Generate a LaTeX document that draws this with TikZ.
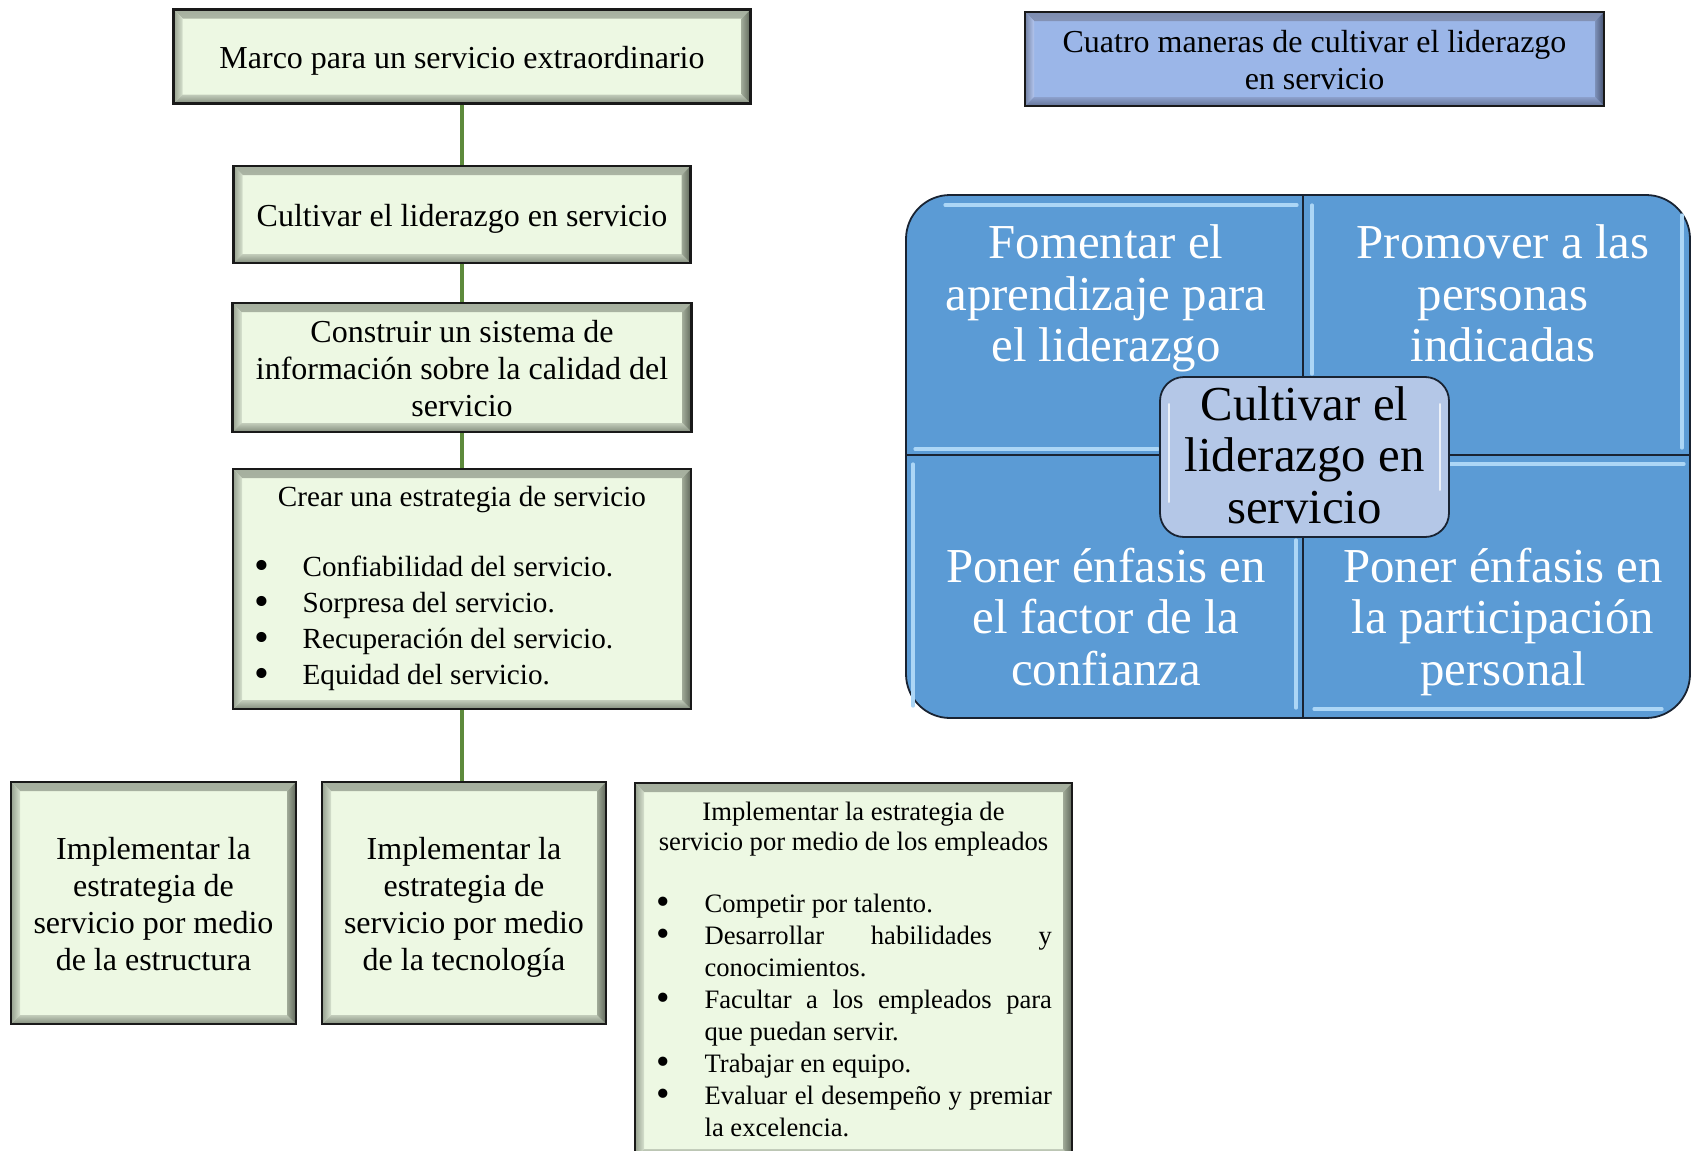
\documentclass[tikz,border=0pt]{standalone}
\usepackage{fontspec}
\setmainfont{Liberation Serif}
\usetikzlibrary{calc}
\definecolor{ginner}{RGB}{237,248,227}
\definecolor{gTo}{RGB}{165,175,158}
\definecolor{gTi}{RGB}{232,241,224}
\definecolor{gLo}{RGB}{150,160,143}
\definecolor{gLi}{RGB}{214,225,206}
\definecolor{gBi}{RGB}{195,205,187}
\definecolor{gBo}{RGB}{130,140,124}
\definecolor{gRi}{RGB}{160,170,152}
\definecolor{gRo}{RGB}{95,103,90}
\definecolor{binner}{RGB}{155,182,232}
\definecolor{bTo}{RGB}{125,140,175}
\definecolor{bTi}{RGB}{200,216,246}
\definecolor{bLo}{RGB}{115,130,165}
\definecolor{bLi}{RGB}{180,198,238}
\definecolor{bBi}{RGB}{140,160,204}
\definecolor{bBo}{RGB}{100,115,150}
\definecolor{bRi}{RGB}{125,145,185}
\definecolor{bRo}{RGB}{70,82,112}
\definecolor{mblue}{RGB}{91,155,213}
\definecolor{mline}{RGB}{25,35,50}
\definecolor{hlblue}{RGB}{172,214,246}
\definecolor{cfill}{RGB}{180,199,231}
\definecolor{gline}{RGB}{93,138,60}
\newlength\bevw \setlength\bevw{4.5pt}
\newcommand\bevelframe[8]{%
\shade[top color=#1,bottom color=#2] (path picture bounding box.north west) -- (path picture bounding box.north east) -- ([xshift=-\bevw,yshift=-\bevw]path picture bounding box.north east) -- ([xshift=\bevw,yshift=-\bevw]path picture bounding box.north west) -- cycle;
\shade[left color=#3,right color=#4] (path picture bounding box.north west) -- (path picture bounding box.south west) -- ([xshift=\bevw,yshift=\bevw]path picture bounding box.south west) -- ([xshift=\bevw,yshift=-\bevw]path picture bounding box.north west) -- cycle;
\shade[top color=#5,bottom color=#6] (path picture bounding box.south west) -- (path picture bounding box.south east) -- ([xshift=-\bevw,yshift=\bevw]path picture bounding box.south east) -- ([xshift=\bevw,yshift=\bevw]path picture bounding box.south west) -- cycle;
\shade[left color=#7,right color=#8] (path picture bounding box.north east) -- (path picture bounding box.south east) -- ([xshift=-\bevw,yshift=\bevw]path picture bounding box.south east) -- ([xshift=-\bevw,yshift=-\bevw]path picture bounding box.north east) -- cycle;
}
\newcommand\bul{\noindent\hangindent=34.8pt\hangafter=1\hspace*{10.5pt}\makebox[24.3pt][l]{\raisebox{-0.1em}{\scalebox{1.45}{\textbullet}}}}
\tikzset{
 gbox/.style={draw=black!90, line width=1.2pt, fill=ginner, inner sep=0pt, align=center,
   path picture={\bevelframe{gTo}{gTi}{gLo}{gLi}{gBi}{gBo}{gRi}{gRo}}},
 bbox/.style={draw=black!90, line width=1.2pt, fill=binner, inner sep=0pt, align=center,
   path picture={\bevelframe{bTo}{bTi}{bLo}{bLi}{bBi}{bBo}{bRi}{bRo}}},
 fbig/.style={font=\fontsize{16pt}{18.4pt}\selectfont, text depth=3.5pt},
 lone/.style={text height=15.6pt},
 ltwo/.style={text height=34pt},
 lthree/.style={text height=52.4pt},
 lfour/.style={text height=70.8pt},
 conn/.style={draw=gline, line width=1.6pt},
 quad/.style={text=white, align=center, inner sep=0pt, font=\fontsize{24.4pt}{25.75pt}\selectfont,
   text height=73.5pt, text depth=5.5pt},
 hl/.style={draw=hlblue, line width=1.6pt, line cap=round},
 hlc/.style={draw=white!75!cfill, line width=1.2pt, line cap=round},
 divl/.style={draw=mline, line width=0.9pt},
}
\begin{document}
\begin{tikzpicture}[x=0.5pt,y=-0.5pt]
\useasboundingbox (0,0) rectangle (1692,1151);
% left column
\node[gbox, fbig, lone, minimum width=288.5pt, minimum height=47pt] (marco) at (462,56.5) {Marco para un servicio extraordinario};
\node[gbox, fbig, lone, minimum width=228.5pt, minimum height=48.5pt] (cult) at (462,214.5) {Cultivar el liderazgo en servicio};
\node[gbox, fbig, lthree, minimum width=229.5pt, minimum height=64.5pt] (constr) at (462,367.5) {Construir un sistema de\\información sobre la calidad del\\servicio};
\node[gbox, minimum width=229pt, minimum height=120pt] (crear) at (462,589) {\parbox[c][120pt][t]{229pt}{\fontsize{14.6pt}{18.1pt}\selectfont\hyphenpenalty=10000
{\centering\rule{0pt}{18.5pt}Crear una estrategia de servicio\par}
\vspace{17pt}
\bul Confiabilidad del servicio.\par
\bul Sorpresa del servicio.\par
\bul Recuperación del servicio.\par
\bul Equidad del servicio.\par}};
\node[gbox, fbig, lfour, minimum width=142.5pt, minimum height=121pt] (estr) at (153.5,903) {Implementar la\\estrategia de\\servicio por medio\\de la estructura};
\node[gbox, fbig, lfour, minimum width=142pt, minimum height=121pt] (tecn) at (464,903) {Implementar la\\estrategia de\\servicio por medio\\de la tecnología};
\node[gbox, minimum width=218.5pt, minimum height=187.5pt] (empl) at (853.5,970.5) {\parbox[c][187.5pt][t]{218.5pt}{\fontsize{13.3pt}{15pt}\selectfont\hyphenpenalty=10000
{\centering\rule{0pt}{18.5pt}Implementar la estrategia de\\servicio por medio de los empleados\par}
\fontsize{13.3pt}{16pt}\selectfont\rightskip=10pt
\vspace{15pt}
\bul Competir por talento.\par
\bul Desarrollar habilidades y\linebreak conocimientos.\par
\bul Facultar a los empleados para\linebreak que puedan servir.\par
\bul Trabajar en equipo.\par
\bul Evaluar el desempeño y premiar\linebreak la excelencia.\par}};
% connectors
\draw[conn] (marco.south) -- (cult.north);
\draw[conn] (cult.south) -- (constr.north);
\draw[conn] (constr.south) -- (crear.north);
\draw[conn] (crear.south) -- (crear.south |- tecn.north);
% right title
\node[bbox, fbig, ltwo, minimum width=289.5pt, minimum height=47pt] (cuatro) at (1314.5,59) {Cuatro maneras de cultivar el liderazgo\\en servicio};
% matrix
\node[draw=mline, line width=0.9pt, fill=mblue, rounded corners=22pt, minimum width=392pt, minimum height=261.5pt, inner sep=0pt] (mat) at (1298,456.5) {};
\coordinate (mc) at (1303,455);
\draw[divl] (mat.north -| mc) -- (mat.south -| mc);
\draw[divl] (mat.west |- mc) -- (mat.east |- mc);
% highlights
\draw[hl] (945,205) -- (1297,205);
\draw[hl] (915,449) -- (1158,449);
\draw[hl] (1312,205) -- (1312,374);
\draw[hl] (1682,215) -- (1682,448);
\draw[hl] (913,464) -- (913,706);
\draw[hl] (1296,540) -- (1296,708);
\draw[hl] (1314,709) -- (1662,709);
\draw[hl] (1450,464) -- (1684,464);
% center
\node[draw=mline, line width=0.9pt, fill=cfill, rounded corners=12pt, minimum width=144.5pt, minimum height=80pt, inner sep=0pt] (ctr) at (1304.5,457) {};
\draw[hlc] ([xshift=5pt,yshift=-14pt]ctr.north west) -- ([xshift=5pt,yshift=18pt]ctr.south west);
\draw[hlc] ([xshift=-5pt,yshift=-14pt]ctr.north east) -- ([xshift=-5pt,yshift=24pt]ctr.south east);
\node[quad, text=black] (ctrt) at (1304.5,455) {Cultivar el\\liderazgo en\\servicio};
\node[quad] (q1) at (1106,293.5) {Fomentar el\\aprendizaje para\\el liderazgo};
\node[quad] (q2) at (1503,293.5) {Promover a las\\personas\\indicadas};
\node[quad] (q3) at (1106,617) {Poner énfasis en\\el factor de la\\confianza};
\node[quad] (q4) at (1503,617) {Poner énfasis en\\la participación\\personal};
\end{tikzpicture}
\end{document}
